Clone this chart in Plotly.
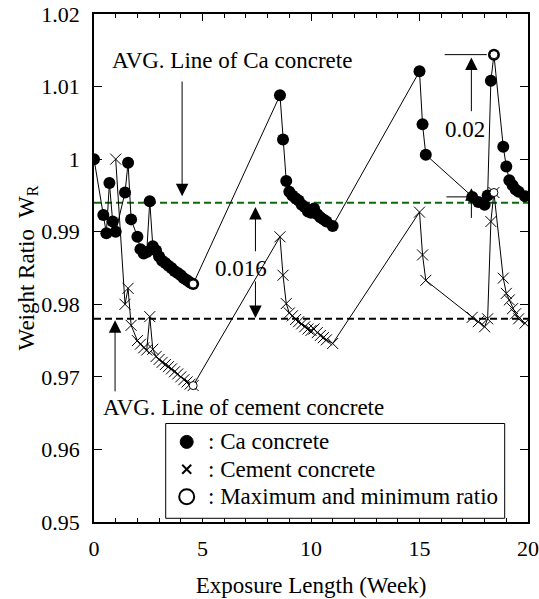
import plotly.graph_objects as go

# ---------------- data ----------------
ca_week = [0, 0.43, 0.57, 0.71, 0.86, 1.0, 1.43, 1.57, 1.71, 2.0, 2.14, 2.29, 2.43, 2.57,
           2.71, 2.86, 3.0, 3.14, 3.29, 3.43, 3.57, 3.71, 3.86, 4.0, 4.14, 4.29, 4.43, 4.57,
           8.57, 8.71, 8.86, 9.0, 9.14, 9.29, 9.43, 9.57, 9.71, 9.86, 10.0, 10.14, 10.29,
           10.43, 10.57, 10.71, 11.0,
           15.0, 15.14, 15.29, 17.43, 17.71, 18.0, 18.14, 18.29, 18.43, 18.86, 19.0, 19.14,
           19.29, 19.43, 19.57, 19.86]
ca_ratio = [1.000, 0.9923, 0.9898, 0.9967, 0.9914, 0.9900, 0.9954, 0.9995, 0.9917, 0.9893,
            0.9876, 0.9870, 0.9872, 0.9942, 0.9880, 0.9874, 0.9866, 0.9860, 0.9857, 0.9853,
            0.9850, 0.9846, 0.9843, 0.9840, 0.9836, 0.9833, 0.9830, 0.9828,
            1.0088, 1.0027, 0.9970, 0.9955, 0.9950, 0.9946, 0.9943, 0.9937, 0.9934, 0.9928,
            0.9926, 0.9932, 0.9924, 0.9920, 0.9917, 0.9914, 0.9908,
            1.0121, 1.0048, 1.0006, 0.9948, 0.9941, 0.9937, 0.9950, 1.0108, 1.0144, 1.0017,
            0.9990, 0.9971, 0.9964, 0.9958, 0.9955, 0.9949]

cement_week = [1.0, 1.43, 1.57, 1.71, 2.0, 2.14, 2.29, 2.43, 2.57, 2.71, 2.86, 3.0, 3.14,
               3.29, 3.43, 3.57, 3.71, 3.86, 4.0, 4.14, 4.29, 4.43, 4.57,
               8.57, 8.71, 8.86, 9.0, 9.14, 9.29, 9.43, 9.57, 9.71, 9.86, 10.0, 10.14, 10.29,
               10.43, 10.57, 10.71, 11.0,
               15.0, 15.14, 15.29, 17.43, 17.71, 18.0, 18.14, 18.29, 18.43, 18.86, 19.0,
               19.14, 19.29, 19.43, 19.57, 19.86]
cement_ratio = [1.000, 0.9800, 0.9822, 0.9771, 0.9750, 0.9745, 0.9740, 0.9737, 0.9783, 0.9738,
                0.9728, 0.9724, 0.9720, 0.9717, 0.9714, 0.9711, 0.9707, 0.9704, 0.9700,
                0.9696, 0.9693, 0.9690, 0.9688,
                0.9893, 0.9840, 0.9801, 0.9788, 0.9784, 0.9779, 0.9776, 0.9773, 0.9769,
                0.9766, 0.9764, 0.9766, 0.9761, 0.9757, 0.9754, 0.9751, 0.9746,
                0.9927, 0.9868, 0.9833, 0.9782, 0.9776, 0.9769, 0.9780, 0.9914, 0.9954,
                0.9836, 0.9815, 0.9806, 0.9794, 0.9787, 0.9780, 0.9774]

extreme_week = [4.57, 18.43, 4.57, 18.43]
extreme_ratio = [0.9828, 1.0144, 0.9688, 0.9954]

ca_avg = 0.994
cement_avg = 0.978

y_tick_vals = [0.95, 0.96, 0.97, 0.98, 0.99, 1.00, 1.01, 1.02]
y_tick_text = ["0.95", "0.96", "0.97", "0.98", "0.99", "1", "1.01", "1.02"]
x_tick_vals = [0, 5, 10, 15, 20]

legend_labels = [": Ca concrete", ": Cement concrete", ": Maximum and minimum ratio"]

FONT = "Liberation Serif"

fig = go.Figure()

# average lines
fig.add_shape(type="line", xref="x", yref="y", x0=0, x1=20, y0=ca_avg, y1=ca_avg,
              line=dict(color="#0b6a0b", width=2, dash="7px,4px"), layer="below")
fig.add_shape(type="line", xref="x", yref="y", x0=0, x1=20, y0=cement_avg, y1=cement_avg,
              line=dict(color="black", width=2, dash="7px,4px"), layer="below")

fig.add_trace(go.Scatter(x=cement_week, y=cement_ratio, mode="lines+markers",
                         line=dict(color="black", width=1),
                         marker=dict(symbol="x-thin-open", size=11, color="black",
                                     line=dict(color="black", width=1)),
                         showlegend=False))
fig.add_trace(go.Scatter(x=ca_week, y=ca_ratio, mode="lines+markers",
                         line=dict(color="black", width=1),
                         marker=dict(symbol="circle", size=12, color="black"),
                         showlegend=False))
fig.add_trace(go.Scatter(x=extreme_week, y=extreme_ratio, mode="markers",
                         marker=dict(symbol="circle", size=8, color="white",
                                     line=dict(color="black", width=1)),
                         showlegend=False))

# guide lines for the 0.02 span
fig.add_shape(type="line", xref="x", yref="y", x0=16.16, x1=18.1, y0=1.0144, y1=1.0144,
              line=dict(color="black", width=1))
fig.add_shape(type="line", xref="x", yref="y", x0=16.24, x1=17.18, y0=0.9948, y1=0.9948,
              line=dict(color="black", width=1))

arrow = dict(showarrow=True, arrowhead=2, arrowsize=2.5, arrowwidth=1, arrowcolor="black",
             text="", xref="x", yref="y", axref="x", ayref="y")
arrows = [
    (4.06, 0.9949, 4.06, 1.0109),    # to Ca avg line
    (0.97, 0.9778, 0.97, 0.9678),    # to cement avg line
    (7.44, 0.9934, 7.44, 0.9871),    # 0.016 up
    (7.44, 0.9781, 7.44, 0.98335),   # 0.016 down
    (17.39, 1.0140, 17.39, 1.0064),  # 0.02 up
    (17.39, 0.9960, 17.39, 0.9917),  # 0.02 down
]
for x, y, ax, ay in arrows:
    fig.add_annotation(x=x, y=y, ax=ax, ay=ay, **arrow)

texts = [
    (6.35, 1.01356, "AVG. Line of Ca concrete"),
    (6.91, 0.96583, "AVG. Line of cement concrete"),
    (6.78, 0.98494, "0.016"),
    (17.08, 1.00404, "0.02"),
]
for x, y, t in texts:
    fig.add_annotation(x=x, y=y, text=t, showarrow=False, xref="x", yref="y",
                       font=dict(family=FONT, size=23, color="black"))

# ---------------- legend box (drawn in paper coordinates) ----------------
fig.add_shape(type="rect", xref="paper", yref="paper", x0=0.1652, x1=0.9463,
              y0=0.0073, y1=0.1939, line=dict(color="black", width=1), fillcolor="white")
row_y = [0.1577, 0.1039, 0.0499]
sym_x = 0.2136
# filled circle
fig.add_shape(type="circle", xref="paper", yref="paper", xsizemode="pixel", ysizemode="pixel",
              xanchor=sym_x, yanchor=row_y[0], x0=-6.5, x1=6.5, y0=-6.5, y1=6.5,
              fillcolor="black", line=dict(color="black", width=1))
# cross
fig.add_shape(type="line", xref="paper", yref="paper", xsizemode="pixel", ysizemode="pixel",
              xanchor=sym_x, yanchor=row_y[1], x0=-4.5, x1=4.5, y0=-4.5, y1=4.5,
              line=dict(color="black", width=2))
fig.add_shape(type="line", xref="paper", yref="paper", xsizemode="pixel", ysizemode="pixel",
              xanchor=sym_x, yanchor=row_y[1], x0=-4.5, x1=4.5, y0=4.5, y1=-4.5,
              line=dict(color="black", width=2))
# open circle
fig.add_shape(type="circle", xref="paper", yref="paper", xsizemode="pixel", ysizemode="pixel",
              xanchor=sym_x, yanchor=row_y[2], x0=-7.5, x1=7.5, y0=-7.5, y1=7.5,
              fillcolor="white", line=dict(color="black", width=2))
for yy, lab in zip(row_y, legend_labels):
    fig.add_annotation(x=0.258, y=yy, xref="paper", yref="paper", text=lab, showarrow=False,
                       xanchor="left", yanchor="middle",
                       font=dict(family=FONT, size=23, color="black"))

fig.update_layout(
    width=539, height=599,
    margin=dict(l=94, r=11, t=14, b=77, pad=0),
    paper_bgcolor="white", plot_bgcolor="white",
    showlegend=False,
    font=dict(family=FONT, size=23, color="black"),
    xaxis=dict(range=[0, 20], tickvals=x_tick_vals, ticks="inside", ticklen=7, tickwidth=1,
               tickcolor="black", mirror="allticks", showline=True, linecolor="black",
               linewidth=1.5, showgrid=False, zeroline=False, ticklabelstandoff=6,
               automargin=False, ticklabeloverflow="allow",
               minor=dict(dtick=1, ticks="inside", ticklen=4, tickwidth=1, tickcolor="black",
                          showgrid=False),
               tickfont=dict(family=FONT, size=22, color="black"),
               title=dict(text="Exposure Length (Week)", standoff=17,
                          font=dict(family=FONT, size=23, color="black"))),
    yaxis=dict(range=[0.95, 1.02], tickvals=y_tick_vals, ticktext=y_tick_text,
               ticks="inside", ticklen=8, tickwidth=1, tickcolor="black", mirror="allticks",
               showline=True, linecolor="black", linewidth=1.5, showgrid=False,
               zeroline=False, ticklabelstandoff=8, automargin=False,
               ticklabeloverflow="allow",
               tickfont=dict(family=FONT, size=22, color="black"),
               title=dict(text="Weight Ratio  W<sub>R</sub>", standoff=0,
                          font=dict(family=FONT, size=23, color="black"))),
)

# remove the default page margin so the figure fills the window exactly; hide the modebar
fig.write_html("out.html", config={"displayModeBar": False},
               post_script="document.body.style.margin='0';")
